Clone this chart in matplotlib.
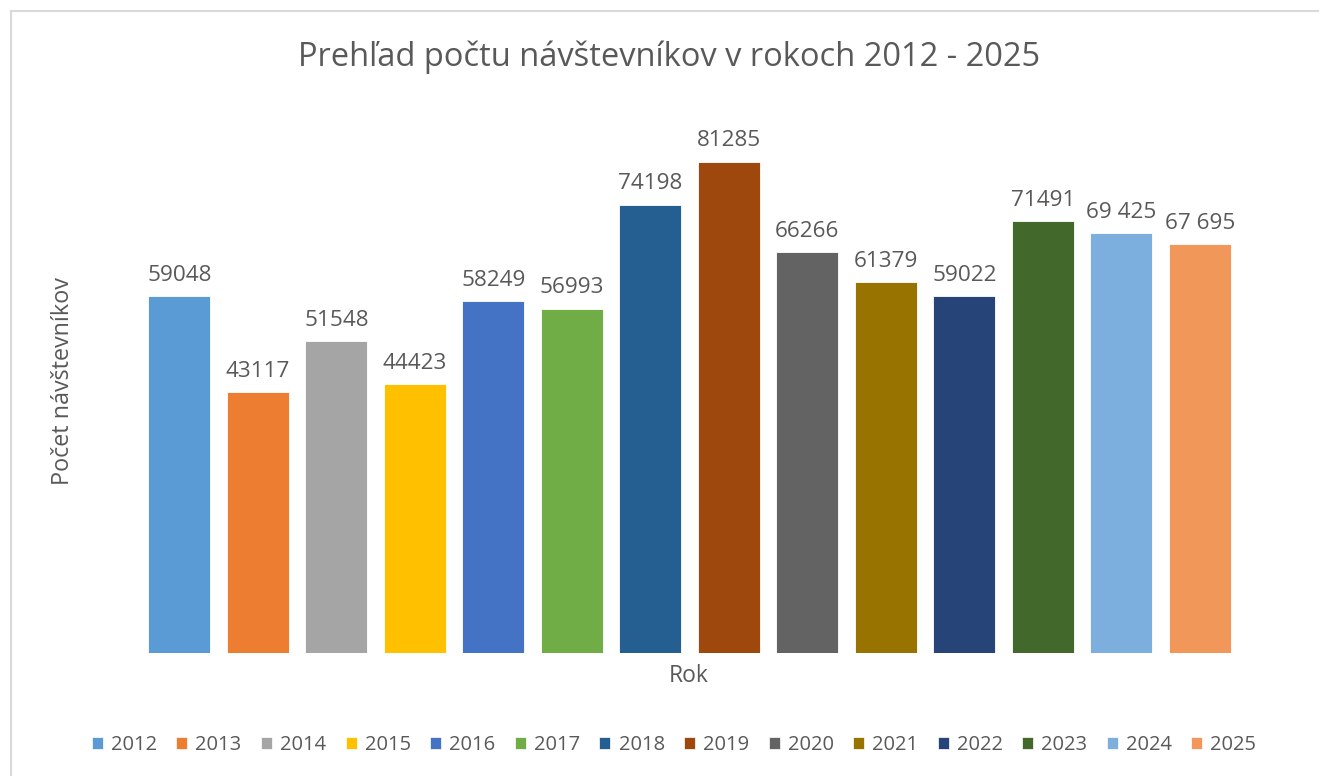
import matplotlib
matplotlib.use("Agg")
import matplotlib.pyplot as plt
from matplotlib.patches import Patch
from matplotlib.lines import Line2D

# data
years = ['2012', '2013', '2014', '2015', '2016', '2017', '2018',
         '2019', '2020', '2021', '2022', '2023', '2024', '2025']
visitors = [59048, 43117, 51548, 44423, 58249, 56993, 74198,
            81285, 66266, 61379, 59022, 71491, 69425, 67695]
value_labels = ['59048', '43117', '51548', '44423', '58249', '56993', '74198',
                '81285', '66266', '61379', '59022', '71491', '69 425', '67 695']
bar_colors = ['#5B9BD5', '#ED7D31', '#A5A5A5', '#FFC000', '#4472C4', '#70AD47', '#255E91',
              '#9E480E', '#636363', '#997300', '#264478', '#43682B', '#7CAFDD', '#F1975A']

plt.rcParams['font.family'] = ['Open Sans', 'DejaVu Sans']
text_gray = '#595959'

W, H = 1319, 776
fig = plt.figure(figsize=(W / 100, H / 100), dpi=100)
ax = fig.add_axes([140 / W, 1 - 653 / H, (1239 - 140) / W, (653 - 109) / H])

x = range(len(years))
bars = ax.bar(x, visitors, width=0.79, color=bar_colors, edgecolor='white', linewidth=0.6)

for rect, lab in zip(bars, value_labels):
    ax.annotate(lab, (rect.get_x() + rect.get_width() / 2, rect.get_height()),
                xytext=(0, 11), textcoords='offset points',
                ha='center', va='baseline', fontsize=16.2, color=text_gray)

ax.set_xlim(-0.5, len(years) - 0.5)
ax.set_ylim(0, 90000)
ax.axis('off')

# title and axis titles
fig.text(669 / W, 1 - 66 / H, 'Prehľad počtu návštevníkov v rokoch 2012 - 2025',
         ha='center', va='baseline', fontsize=23.5, color=text_gray)
fig.text(63 / W, 1 - 381 / H, 'Počet návštevníkov', rotation=90,
         ha='center', va='center', fontsize=16.8, color=text_gray)
fig.text(689 / W, 1 - 682 / H, 'Rok', ha='center', va='baseline',
         fontsize=16.5, color=text_gray)

# legend at the bottom
handles = [Patch(facecolor=c, edgecolor='white', linewidth=0.5) for c in bar_colors]
fig.legend(handles, years, loc='center', bbox_to_anchor=(674 / W, 1 - 745 / H),
           ncol=len(years), frameon=False, fontsize=14.5, labelcolor=text_gray,
           handlelength=0.55, handleheight=0.55, handletextpad=0.4,
           columnspacing=0.96, borderpad=0)

# chart border (cut off at right and bottom)
fig.add_artist(Line2D([10.5 / W, 10.5 / W], [0, 1 - 10.5 / H], color='#D9D9D9',
                      lw=1.5, transform=fig.transFigure))
fig.add_artist(Line2D([10.5 / W, 1], [1 - 10.5 / H, 1 - 10.5 / H], color='#D9D9D9',
                      lw=1.5, transform=fig.transFigure))

fig.savefig('out.png', dpi=100, facecolor='white')
